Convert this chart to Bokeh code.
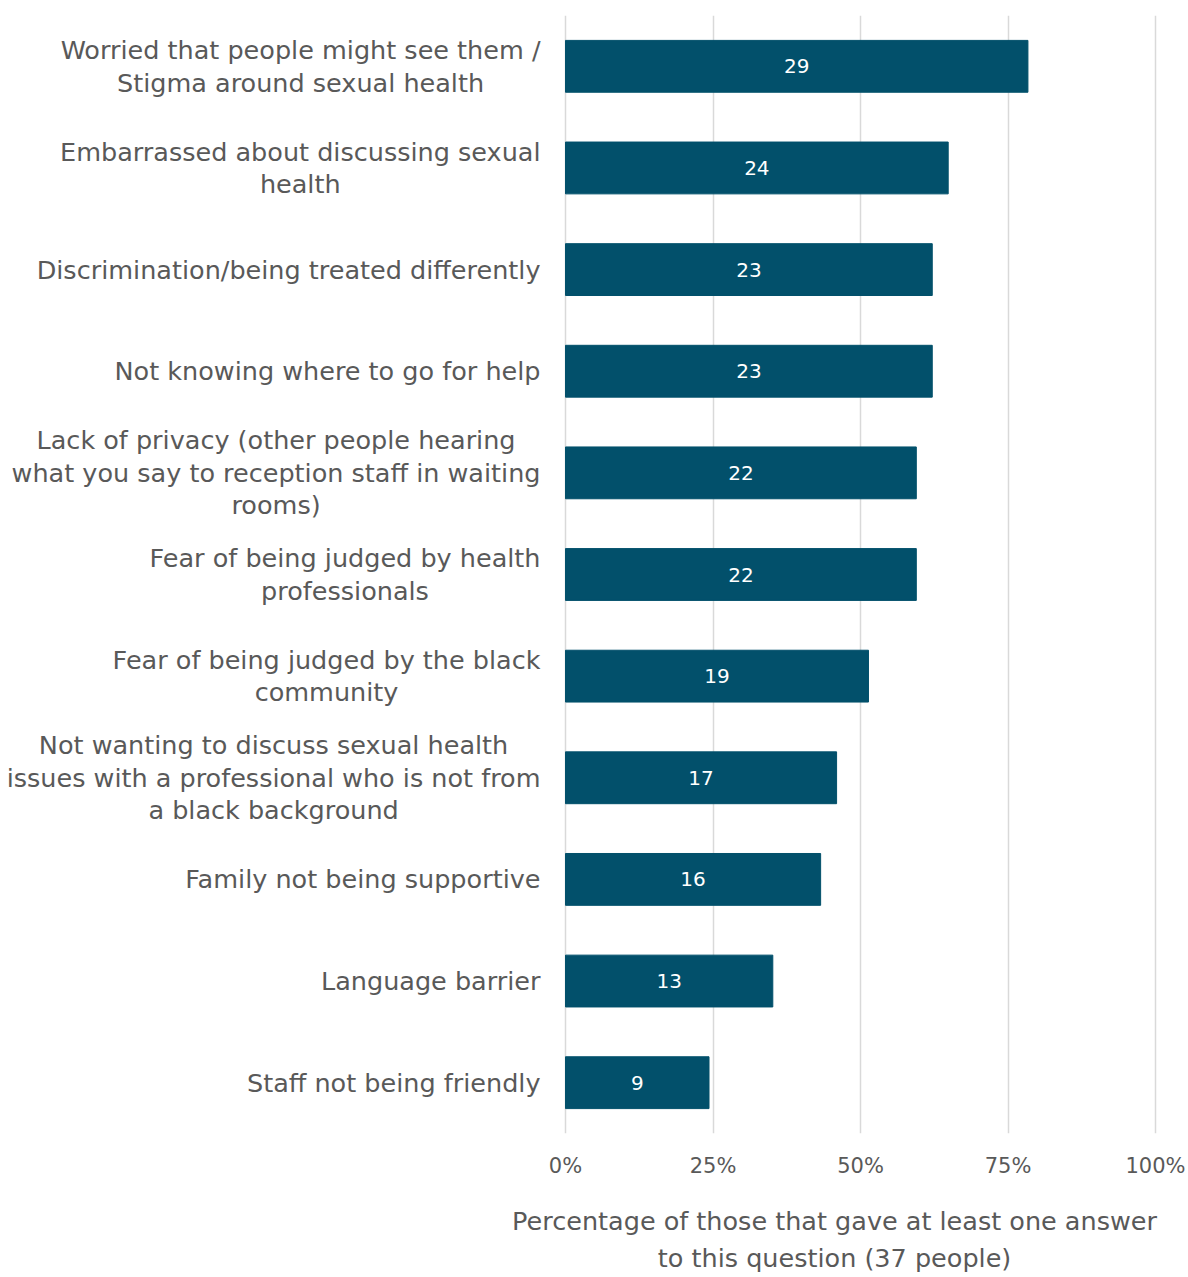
from bokeh.plotting import figure
from bokeh.layouts import column
from bokeh.models import Range1d, FactorRange, FixedTicker, NumeralTickFormatter, ColumnDataSource
from bokeh.core.properties import value
from bokeh.embed import file_html
from bokeh.resources import INLINE

categories = [
    "Worried that people might see them /\nStigma around sexual health",
    "Embarrassed about discussing sexual\nhealth",
    "Discrimination/being treated differently",
    "Not knowing where to go for help",
    "Lack of privacy (other people hearing\nwhat you say to reception staff in waiting\nrooms)",
    "Fear of being judged by health\nprofessionals",
    "Fear of being judged by the black\ncommunity",
    "Not wanting to discuss sexual health\nissues with a professional who is not from\na black background",
    "Family not being supportive",
    "Language barrier",
    "Staff not being friendly",
]
counts = [29, 24, 23, 23, 22, 22, 19, 17, 16, 13, 9]
respondents = 37
x_ticks = [0, 0.25, 0.5, 0.75, 1.0]
axis_title = "Percentage of those that gave at least one answer\nto this question (37 people)"

FONT = "DejaVu Sans"
TEXT_GRAY = "#595959"
BAR_COLOR = "#02506B"

pct = [c / respondents for c in counts]
src = ColumnDataSource(dict(
    cat=categories,
    pct=pct,
    mid=[v / 2 for v in pct],
    count=[str(c) for c in counts],
))

x_range = Range1d(-565 / 590, 623 / 590)

p = figure(
    frame_width=1188, frame_height=1118,
    y_range=FactorRange(*reversed(categories)),
    x_range=x_range,
    output_backend="svg", toolbar_location=None,
    y_axis_location=None,
    min_border_left=0, min_border_right=0, min_border_top=15, min_border_bottom=60,
)
p.outline_line_color = None
p.background_fill_color = "white"
p.border_fill_color = "white"

p.xaxis.ticker = FixedTicker(ticks=x_ticks)
p.xaxis.formatter = NumeralTickFormatter(format="0%")
p.xaxis.axis_line_color = None
p.xaxis.major_tick_line_color = None
p.xaxis.minor_tick_line_color = None
p.xaxis.major_tick_out = 0
p.xaxis.major_label_standoff = 20
p.xaxis.major_label_text_font = FONT
p.xaxis.major_label_text_font_size = "21px"
p.xaxis.major_label_text_color = TEXT_GRAY

p.xgrid.grid_line_color = "#D9D9D9"
p.xgrid.grid_line_width = 1.5
p.ygrid.visible = False

p.hbar(y="cat", left=0, right="pct", height=0.51, source=src,
       fill_color=BAR_COLOR, line_color=BAR_COLOR)

p.text(x="mid", y="cat", text="count", source=src,
       text_align="center", text_baseline="middle",
       text_color="white", text_font=value(FONT), text_font_size="20px")

p.text(x=0, y="cat", text="cat", source=src,
       anchor="center_right", text_align="center", x_offset=-25,
       text_color=TEXT_GRAY, text_font=value(FONT), text_font_size="25.5px",
       text_line_height=1.08)

# strip below the chart holding the x-axis title (centred off the frame centre, as in the original)
t = figure(
    frame_width=1188, frame_height=84,
    x_range=x_range, y_range=Range1d(0, 84),
    output_backend="svg", toolbar_location=None,
    x_axis_location=None, y_axis_location=None,
    min_border=0,
)
t.outline_line_color = None
t.grid.visible = False
t.border_fill_color = "white"
t.text(x=[0.456], y=[38], text=[axis_title],
       anchor="center", text_align="center",
       text_color=TEXT_GRAY, text_font=value(FONT), text_font_size="25.5px",
       text_line_height=1.22)

layout = column(p, t, spacing=0)
open("out.html", "w").write(file_html(layout, INLINE))
